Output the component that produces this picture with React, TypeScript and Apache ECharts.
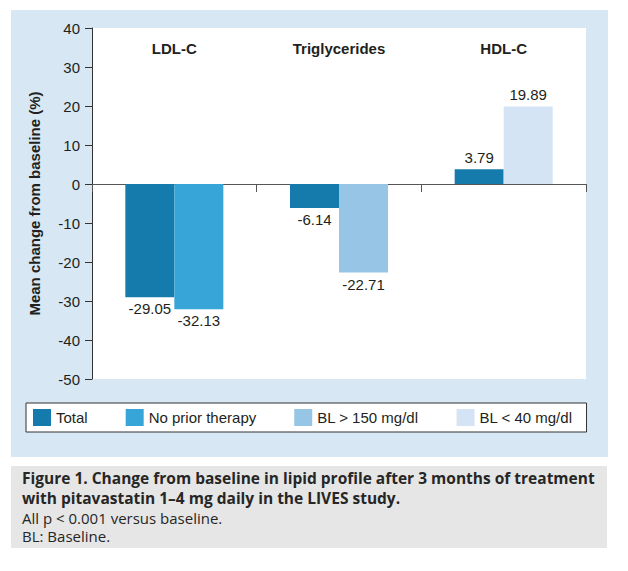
import React, { useEffect, useRef } from "react";
import * as echarts from "echarts";

const categories = ["LDL-C", "Triglycerides", "HDL-C"];
const totalValues = [-29.05, -6.14, 3.79];
const noPriorValues: (number | string)[] = [-32.13, "-", "-"];
const blOver150Values: (number | string)[] = ["-", -22.71, "-"];
const blUnder40Values: (number | string)[] = ["-", "-", 19.89];
const seriesNames = ["Total", "No prior therapy", "BL > 150 mg/dl", "BL < 40 mg/dl"];
const seriesColors = ["#157bad", "#37a5d7", "#97c5e5", "#d4e4f4"];
const yMin = -50;
const yMax = 40;
const yStep = 10;
const captionLines = [
  "Figure 1. Change from baseline in lipid profile after 3 months of treatment",
  "with pitavastatin 1\u20134 mg daily in the LIVES study.",
  "All p < 0.001 versus baseline.",
  "BL: Baseline.",
];

const TEXT = "#231f20";
const FONT = "'Liberation Sans', Arial, sans-serif";
const CAP_FONT = "'Open Sans', 'Noto Sans', sans-serif";

function toData(vals: (number | string)[]) {
  return vals.map((v) => {
    if (typeof v !== "number") return "-";
    return {
      value: v,
      label: { position: v < 0 ? "bottom" : "top" },
    };
  });
}

export default function App() {
  const ref = useRef<HTMLDivElement>(null);
  useEffect(() => {
    if (!ref.current) return;
    const chart = echarts.init(ref.current, undefined, { renderer: "svg" });
    const labelCfg = {
      show: true,
      color: TEXT,
      fontSize: 15,
      fontFamily: FONT,
      distance: 4,
    };
    const allValues = [totalValues, noPriorValues, blOver150Values, blUnder40Values];
    const series = allValues.map((vals, i) => ({
      name: seriesNames[i],
      type: "bar",
      stack: i === 0 ? undefined : "other",
      data: toData(vals),
      barWidth: 49,
      barGap: "0%",
      itemStyle: { color: seriesColors[i] },
      label: labelCfg,
      xAxisIndex: 0,
      yAxisIndex: 0,
    }));
    const capColor = "#262626";
    const capStyles = [
      { y: 477.5, font: `bold 15.5px ${CAP_FONT}` },
      { y: 497.5, font: `bold 15.5px ${CAP_FONT}` },
      { y: 517.5, font: `15px ${CAP_FONT}` },
      { y: 535.5, font: `15px ${CAP_FONT}` },
    ];
    const captionGraphics = captionLines.map((line, i) => ({
      type: "text",
      x: 22,
      y: capStyles[i].y,
      style: {
        text: line,
        font: capStyles[i].font,
        fill: capColor,
        verticalAlign: "middle",
      },
    }));
    chart.setOption({
      animation: false,
      backgroundColor: "#ffffff",
      textStyle: { fontFamily: FONT },
      graphic: [
        {
          type: "rect",
          z: -100,
          shape: { x: 11, y: 10, width: 597, height: 447 },
          style: { fill: "#d7e8f4" },
          silent: true,
        },
        {
          type: "rect",
          z: -100,
          shape: { x: 11, y: 466, width: 596, height: 82 },
          style: { fill: "#e6e6e6" },
          silent: true,
        },
        ...captionGraphics,
      ],
      grid: {
        left: 92,
        top: 28,
        right: 42,
        bottom: 192,
        show: true,
        backgroundColor: "#ffffff",
        borderWidth: 0,
        containLabel: false,
      },
      legend: {
        data: seriesNames,
        left: 26,
        top: 403,
        orient: "horizontal",
        icon: "rect",
        itemWidth: 18,
        itemHeight: 17,
        itemGap: 38,
        padding: [6, 14, 6, 7],
        borderColor: "#333333",
        borderWidth: 1,
        backgroundColor: "#ffffff",
        textStyle: { color: TEXT, fontSize: 15, fontFamily: FONT },
        selectedMode: false,
      },
      xAxis: [
        {
          type: "category",
          data: categories,
          position: "bottom",
          axisLine: { show: true, onZero: true, lineStyle: { color: "#555555", width: 1 } },
          axisTick: { show: true, length: 8, alignWithLabel: false, lineStyle: { color: "#555555" } },
          axisLabel: { show: false },
          splitLine: { show: false },
        },
        {
          type: "category",
          data: categories,
          position: "top",
          axisLine: { show: false, onZero: false },
          axisTick: { show: false },
          axisLabel: {
            show: true,
            inside: true,
            margin: 13,
            color: TEXT,
            fontSize: 15,
            fontWeight: "bold",
            fontFamily: FONT,
          },
          splitLine: { show: false },
        },
      ],
      yAxis: {
        type: "value",
        min: yMin,
        max: yMax,
        interval: yStep,
        name: "Mean change from baseline (%)",
        nameLocation: "middle",
        nameGap: 50,
        nameTextStyle: { color: TEXT, fontSize: 15, fontWeight: "bold", fontFamily: FONT },
        axisLine: { show: true, lineStyle: { color: "#333333", width: 1 } },
        axisTick: { show: true, length: 7, lineStyle: { color: "#333333" } },
        axisLabel: { color: TEXT, fontSize: 15, margin: 12, fontFamily: FONT },
        splitLine: { show: false },
      },
      series,
    });
    return () => chart.dispose();
  }, []);
  return (
    <div
      ref={ref}
      style={{ position: "fixed", left: 0, top: 0, width: 628, height: 571 }}
    />
  );
}
